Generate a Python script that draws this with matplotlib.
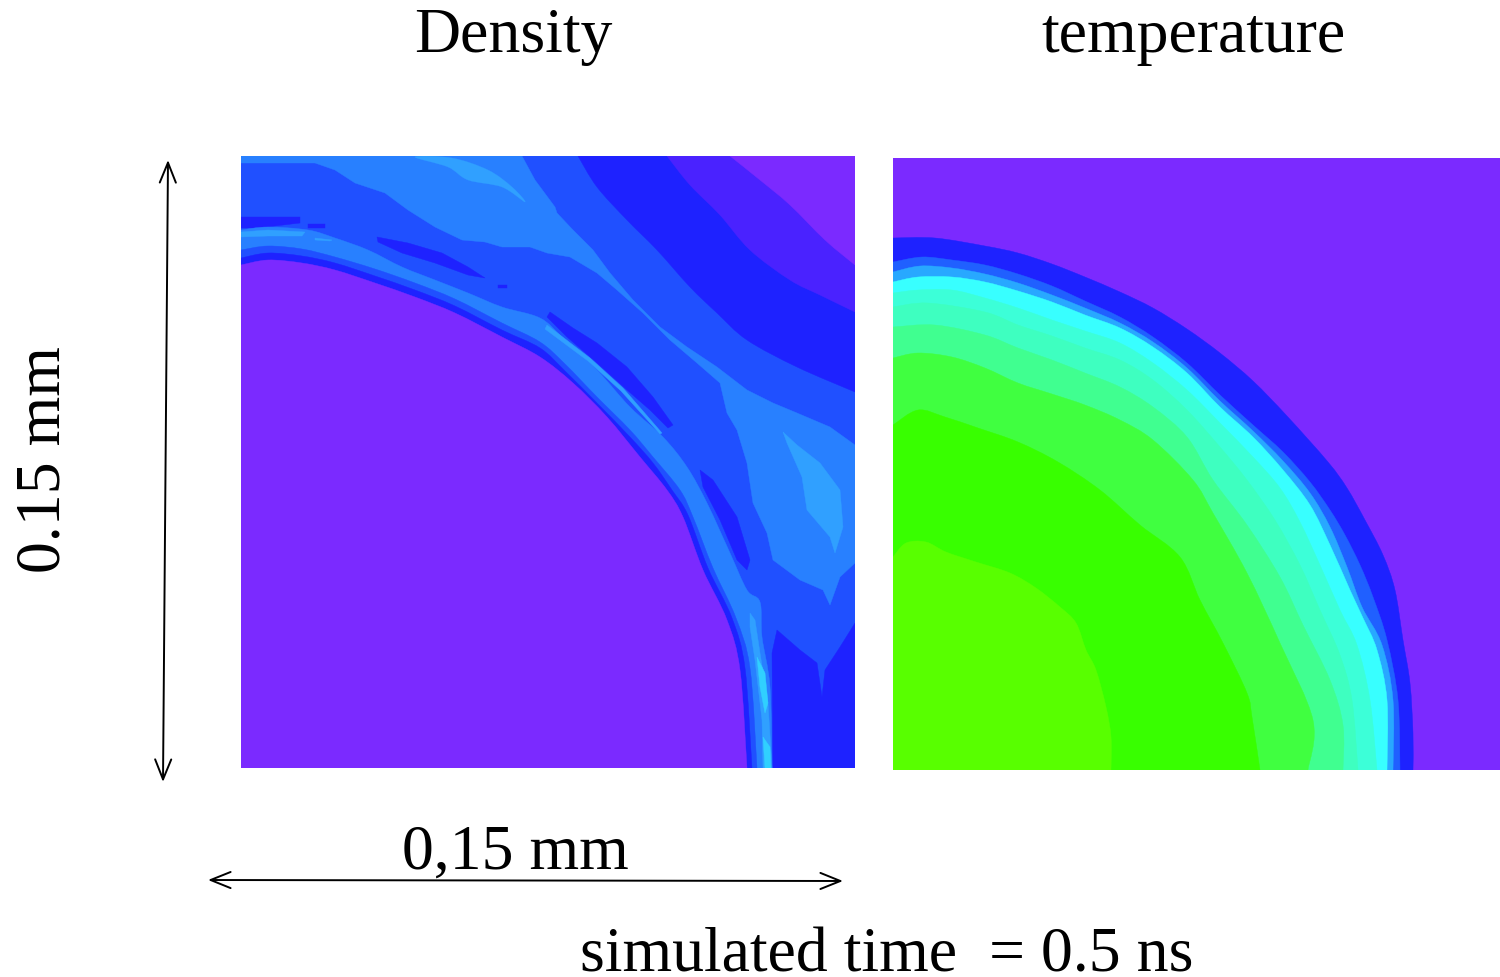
import matplotlib
matplotlib.use("Agg")
import matplotlib.pyplot as plt
from matplotlib.patches import PathPatch, Rectangle
from matplotlib.path import Path

plt.rcParams['font.family'] = ['Liberation Serif', 'DejaVu Serif']

# Contour outlines, in simulation grid units (x, y).
LEFT_EXTENT = (241, 855, 768, 156)
RIGHT_EXTENT = (893, 1500, 770, 158)

PURPLE = '#7B2AFF'; VIOLET = '#4A22FF'; DEEP = '#1E22FF'; MID = '#2050FF'
LIGHT = '#2880FF'; LIGHTER = '#30A0FF'; CYANISH = '#30D0FF'

density_deep_outer = [(578,156),(597,187),(627,220),(657,250),(690,287),(717,313),(747,340),(797,367),(855,392)]
density_violet = [(667,156),(690,185),(720,215),(750,250),(790,280),(820,295),(855,312)]
density_purple_corner = [(730,156),(760,180),(790,205),(825,240),(855,265)]
density_deep_corner = [(773,768),(772,653),(777,630),(800,650),(817,663),(822,697),(825,670),(840,647),(855,623),(855,768)]
density_light = [(241,156),(522,156),(535,180),(555,207),(557,213),(573,230),(593,250),(610,273),(633,300),(660,327),
                 (687,347),(717,367),(747,390),(773,403),(797,413),(830,427),(855,445),(855,563),(840,577),(830,605),
                 (823,590),(800,580),(773,560),(767,533),(753,503),(747,463),(737,430),(727,413),(720,383),(697,363),
                 (670,340),(643,313),(617,290),(597,273),(570,257),(547,253),(530,247),(502,247),(485,242),(462,240),
                 (435,227),(408,210),(385,193),(355,183),(335,170),(315,163),(241,163)]
density_lighter_top = [(415,157),(452,158),(488,170),(512,187),(525,202),(502,187),(468,180),(448,167)]
density_lighter_blob = [(783,432),(797,445),(820,463),(840,490),(843,527),(835,553),(830,537),(807,510),(802,477),(787,443)]
density_deep_streaks = [
    [(241,217),(300,217),(300,223),(258,228),(241,228)],
    [(308,224),(325,224),(325,228),(308,228)],
    [(377,237),(408,243),(442,253),(468,267),(485,278),(468,275),(435,263),(402,253),(378,242)],
    [(498,285),(507,285),(507,288),(498,288)],
    [(550,312),(573,328),(597,343),(627,367),(653,397),(673,425),(668,428),(650,410),(627,390),(597,363),(567,337),(547,317)],
    [(700,470),(713,480),(737,517),(750,560),(747,570),(737,560),(720,520),(703,487)],
]
shell_light = [(241,230),(268,227),(308,230),(335,238),(368,250),(402,267),(435,280),(468,293),(502,307),(540,318),
               (563,338),(597,370),(630,407),(663,437),(687,467),(707,503),(730,553),(747,590),(760,602),(762,637),
               (770,687),(772,768)]
shell_mid = [(241,250),(268,246),(302,249),(335,257),(375,269),(415,283),(455,299),(502,323),(540,342),(565,364),
             (597,397),(630,430),(653,457),(680,490),(693,517),(713,568),(736,618),(750,668),(757,768)]
shell_deep = [(241,258),(268,253),(302,256),(335,263),(375,276),(415,290),(455,306),(502,330),(540,348),(565,371),
              (597,403),(630,437),(653,463),(672,490),(688,515),(708,568),(732,618),(745,668),(752,768)]
shell_purple = [(241,265),(268,260),(302,263),(335,270),(375,283),(415,297),(455,313),(502,337),(540,357),(573,383),
                (607,417),(640,457),(667,490),(683,517),(703,570),(727,620),(740,670),(747,768)]
shell_streaks = [
    [(241,232),(268,230),(305,232),(302,236),(268,236),(241,237)],
    [(315,238),(332,240),(330,241),(315,240)],
    [(547,325),(590,358),(623,388),(662,433),(660,434),(621,391),(588,361),(545,329)],
    [(750,613),(755,620),(760,653),(768,703),(772,768),(763,768),(762,720),(755,660),(750,627)],
]
shell_cyan = [
    [(757,657),(765,673),(768,703),(765,713),(760,687)],
    [(763,737),(770,747),(771,768),(765,768)],
]

temp_curves = [
    ('#1E22FF', [(893,238),(935,238),(985,246),(1018,253),(1052,264),(1085,277),(1120,292),(1153,308),(1187,329),(1220,353),(1253,381),(1287,416),(1328,462),(1347,488),(1365,520),(1383,555),(1395,590),(1403,640),(1410,683),(1413,733),(1413,770)]),
    ('#2060FF', [(893,262),(922,257),(952,260),(985,265),(1018,274),(1052,286),(1085,301),(1120,317),(1153,337),(1187,363),(1220,395),(1253,425),(1283,452),(1310,482),(1330,510),(1345,535),(1360,565),(1373,597),(1387,640),(1398,700),(1400,770)]),
    ('#28A8FF', [(893,272),(920,266),(952,268),(985,274),(1018,283),(1052,295),(1085,308),(1120,323),(1153,342),(1187,368),(1220,401),(1253,431),(1283,461),(1310,493),(1330,527),(1347,567),(1362,607),(1382,645),(1393,700),(1393,770)]),
    ('#38FFFF', [(893,282),(918,277),(952,277),(985,282),(1018,291),(1052,302),(1085,315),(1120,328),(1153,347),(1187,373),(1220,407),(1253,437),(1283,470),(1310,505),(1330,545),(1350,590),(1363,618),(1377,650),(1387,700),(1387,770)]),
    ('#3CFFD8', [(893,293),(918,290),(952,290),(985,298),(1018,308),(1052,320),(1085,331),(1120,343),(1153,363),(1187,390),(1220,423),(1253,457),(1280,488),(1300,522),(1320,565),(1340,610),(1357,645),(1370,700),(1377,770)]),
    ('#3EFFC0', [(893,307),(928,303),(985,312),(1018,325),(1052,336),(1085,348),(1120,360),(1153,380),(1187,410),(1220,447),(1247,480),(1275,520),(1300,565),(1320,610),(1340,655),(1352,700),(1358,770)]),
    ('#40FF90', [(893,327),(935,325),(985,335),(1018,348),(1052,360),(1085,373),(1120,387),(1153,407),(1187,437),(1213,480),(1247,525),(1280,577),(1303,625),(1330,680),(1343,725),(1343,770)]),
    ('#40FF40', [(893,358),(918,353),(952,357),(985,368),(1018,383),(1052,394),(1085,405),(1120,420),(1153,440),(1193,480),(1213,513),(1247,573),(1280,643),(1313,720),(1308,770)]),
    ('#38FF00', [(893,425),(918,410),(945,417),(978,428),(1018,442),(1058,462),(1100,490),(1140,525),(1180,557),(1200,600),(1223,643),(1247,693),(1252,717),(1260,770)]),
    ('#58FF00', [(893,557),(906,543),(926,542),(946,552),(976,562),(1010,573),(1036,588),(1060,607),(1076,623),(1086,650),(1096,670),(1106,707),(1111,737),(1111,770)]),
]

titles = ['Density', 'temperature']
x_label = '0,15 mm'
y_label = '0.15 mm'
footer = 'simulated time  = 0.5 ns'
W, H = 1500, 977


def curve_codes(pts, closed=False):
    """Smooth path through the read points (Catmull-Rom handles)."""
    n = len(pts)
    verts = [pts[0]]
    codes = [Path.MOVETO]
    last = n if closed else n - 1
    for i in range(last):
        if closed:
            p0, p1, p2, p3 = pts[(i - 1) % n], pts[i], pts[(i + 1) % n], pts[(i + 2) % n]
        else:
            p0, p1, p2, p3 = pts[max(i - 1, 0)], pts[i], pts[i + 1], pts[min(i + 2, n - 1)]
        c1 = (p1[0] + (p2[0] - p0[0]) / 6, p1[1] + (p2[1] - p0[1]) / 6)
        c2 = (p2[0] - (p3[0] - p1[0]) / 6, p2[1] - (p3[1] - p1[1]) / 6)
        verts += [c1, c2, p2]
        codes += [Path.CURVE4] * 3
    return verts, codes


def fill_curve(ax, pts, tail, color):
    verts, codes = curve_codes(pts)
    for t in tail:
        verts.append(t)
        codes.append(Path.LINETO)
    verts.append(pts[0])
    codes.append(Path.CLOSEPOLY)
    ax.add_patch(PathPatch(Path(verts, codes), facecolor=color, edgecolor=color, linewidth=0.3))


def fill_blob(ax, pts, color):
    verts, codes = curve_codes(pts, closed=True)
    verts.append(pts[0])
    codes.append(Path.CLOSEPOLY)
    ax.add_patch(PathPatch(Path(verts, codes), facecolor=color, edgecolor=color, linewidth=0.2))


def fill_poly(ax, pts, color):
    ax.fill([p[0] for p in pts], [p[1] for p in pts], facecolor=color, edgecolor=color, linewidth=0.3)


def panel(ext):
    ax = fig.add_axes([ext[0] / W, 1 - ext[2] / H, (ext[1] - ext[0]) / W, (ext[2] - ext[3]) / H])
    ax.set_xlim(ext[0], ext[1])
    ax.set_ylim(ext[2], ext[3])
    ax.axis('off')
    return ax


fig = plt.figure(figsize=(15, 9.77), dpi=100, facecolor='white')

over = fig.add_axes([0, 0, 1, 1], zorder=5)
over.set_xlim(0, W)
over.set_ylim(H, 0)
over.axis('off')

axl = panel(LEFT_EXTENT)
axl.add_patch(Rectangle((241, 156), 614, 612, facecolor=MID, edgecolor='none'))
fill_curve(axl, density_deep_outer, [(855, 156)], DEEP)
fill_curve(axl, density_violet, [(855, 156)], VIOLET)
fill_curve(axl, density_purple_corner, [(855, 156)], PURPLE)
fill_poly(axl, density_deep_corner, DEEP)
fill_poly(axl, density_light, LIGHT)
fill_blob(axl, density_lighter_top, LIGHTER)
fill_poly(axl, density_lighter_blob, LIGHTER)
for s in density_deep_streaks:
    fill_poly(axl, s, DEEP)
fill_curve(axl, shell_light, [(241, 768)], LIGHT)
for s in shell_streaks:
    fill_poly(axl, s, LIGHTER)
for s in shell_cyan:
    fill_poly(axl, s, CYANISH)
fill_curve(axl, shell_mid, [(241, 768)], MID)
fill_curve(axl, shell_deep, [(241, 768)], DEEP)
fill_curve(axl, shell_purple, [(241, 768)], PURPLE)

axr = panel(RIGHT_EXTENT)
axr.add_patch(Rectangle((893, 158), 607, 612, facecolor=PURPLE, edgecolor='none'))
for color, curve in temp_curves:
    fill_curve(axr, curve, [(893, 770)], color)

FS = 45.9
over.text(513, 52, titles[0], ha='center', va='baseline', fontsize=FS, color='black')
over.text(1193, 52, titles[1], ha='center', va='baseline', fontsize=FS, color='black')
over.text(515, 869, x_label, ha='center', va='baseline', fontsize=FS, color='black')
over.text(60, 460, y_label, ha='center', va='baseline', rotation=90, rotation_mode='anchor', fontsize=FS, color='black')
over.text(887, 972, footer, ha='center', va='baseline', fontsize=FS, color='black')

style = '<->,head_length=0.72,head_width=0.29'
over.annotate('', xy=(168, 160), xytext=(163, 782),
              arrowprops=dict(arrowstyle=style, lw=1.4, color='black', shrinkA=0, shrinkB=0, mutation_scale=20))
over.annotate('', xy=(843, 881), xytext=(208, 880),
              arrowprops=dict(arrowstyle=style, lw=1.4, color='black', shrinkA=0, shrinkB=0, mutation_scale=20))

fig.savefig('out.png', dpi=100)
